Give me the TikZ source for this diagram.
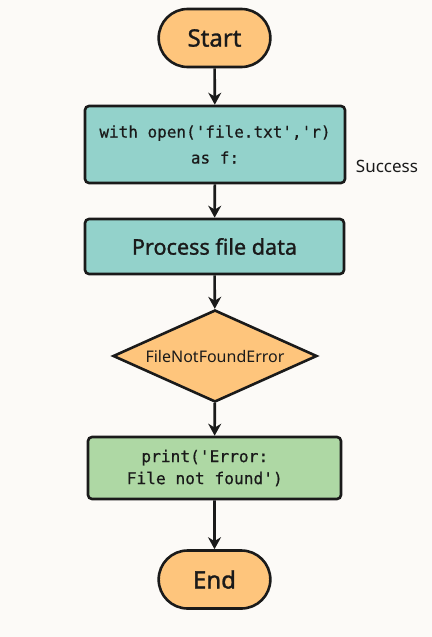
\documentclass[tikz,border=0pt]{standalone}
\usepackage{fontspec}
\setmainfont{Noto Sans}
\setmonofont[FakeBold=0.6]{DejaVu Sans Mono}
\newfontfamily\heavyfont[FakeBold=1.2]{Noto Sans}
\usetikzlibrary{shapes.geometric, shapes.misc, arrows.meta}
\definecolor{bgcol}{HTML}{FCFAF7}
\definecolor{termcol}{HTML}{FEC57C}
\definecolor{stepcol}{HTML}{93D2CB}
\definecolor{errcol}{HTML}{AED8A4}
\definecolor{inkcol}{HTML}{1A1A1A}

\begin{document}
\begin{tikzpicture}[x=0.5pt, y=-0.5pt, >={Stealth[length=6pt, width=6.5pt]},
    terminal/.style={rounded rectangle, draw=inkcol, line width=1.3pt, fill=termcol, text=inkcol,
      minimum width=62.5pt, minimum height=29pt, font=\heavyfont\fontsize{12}{14}\selectfont},
    stepbox/.style={rectangle, rounded corners=2pt, draw=inkcol, line width=1.3pt, fill=stepcol,
      text=inkcol, align=center},
    choice/.style={diamond, aspect=2.2, inner sep=0pt, draw=inkcol, line width=1.3pt, fill=termcol,
      text=inkcol, minimum width=102pt, minimum height=46pt, font=\fontsize{8}{10}\selectfont},
    flow/.style={->, draw=inkcol, line width=1.3pt}]
  \fill[bgcol] (0, 0) rectangle (432, 637);

  \node[terminal] (start) at (214.5, 38) {Start};
  \node[stepbox, minimum width=130pt, minimum height=38.5pt, font=\ttfamily\fontsize{8}{13}\selectfont]
    (open) at (215, 144.5) {with open('file.txt','r)\\as f:};
  \node[stepbox, minimum width=129.5pt, minimum height=27.5pt, font=\heavyfont\fontsize{10.8}{13}\selectfont]
    (proc) at (214.5, 246.5) {Process file data};
  \node[choice] (err) at (215, 356) {FileNotFoundError};
  \node[stepbox, fill=errcol, minimum width=126.5pt, minimum height=31pt, font=\ttfamily\fontsize{8.1}{11}\selectfont]
    (prt) at (214.5, 468) {print('Error:\hphantom{xx}\\File not found')\hphantom{xx}};
  \node[terminal] (stop) at (214.5, 579.5) {End};
  \node[text=inkcol, font=\fontsize{8.5}{10}\selectfont] (succ) at (387, 166) {Success};

  \draw[flow] (start) -- (open);
  \draw[flow] (open) -- (proc);
  \draw[flow] (proc) -- (err);
  \draw[flow] (err) -- (prt);
  \draw[flow] (prt) -- (stop);
\end{tikzpicture}
\end{document}
